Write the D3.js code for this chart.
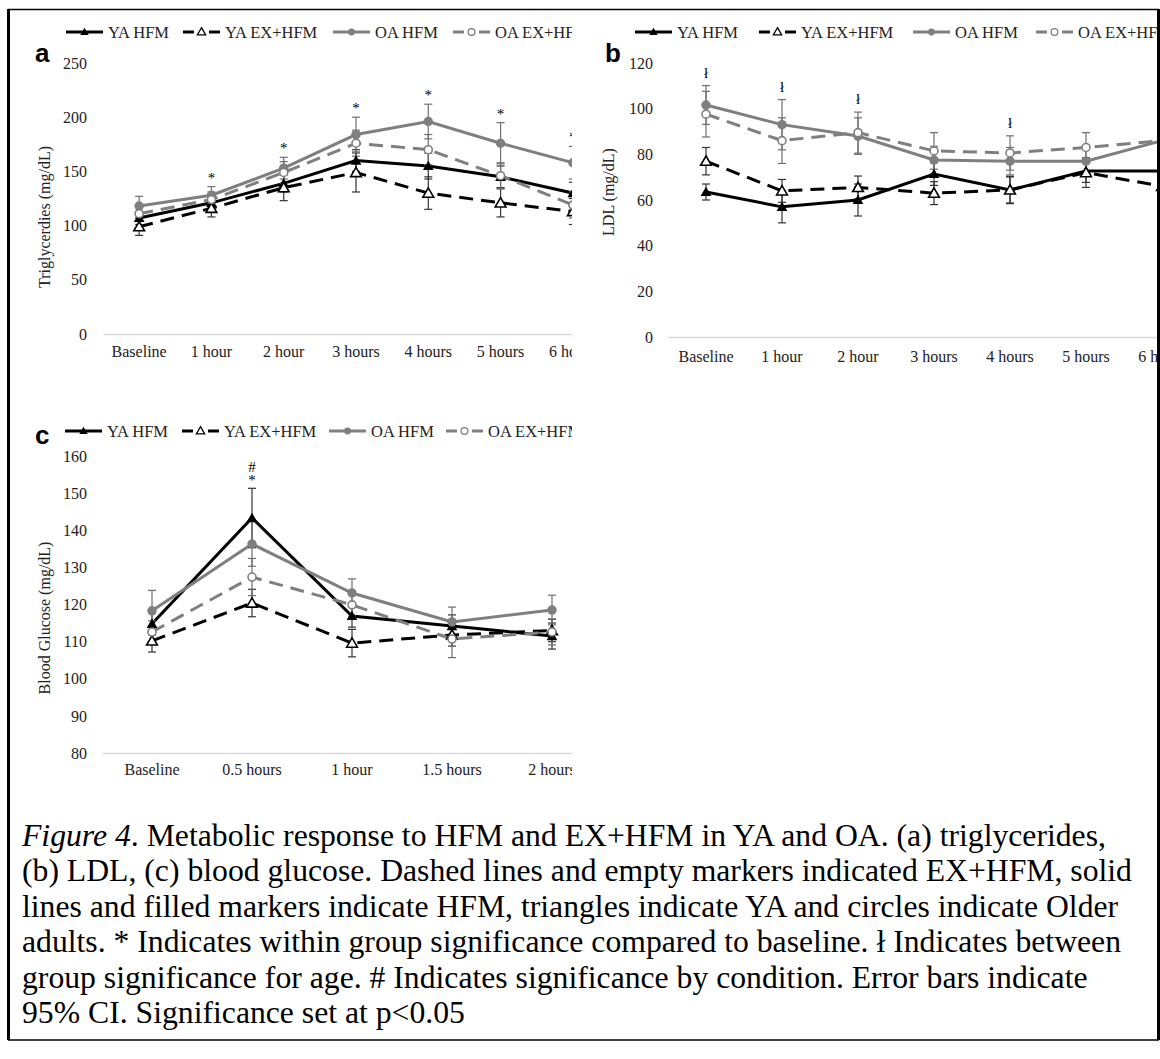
<!DOCTYPE html>
<html>
<head>
<meta charset="utf-8">
<script src="https://cdn.jsdelivr.net/npm/d3@7"></script>
<style>
  body { margin: 0; background: #fff; }
  svg { display: block; font-family: "Liberation Serif", "Times New Roman", serif; }
  text { font-family: "Liberation Serif", "Times New Roman", serif; }
</style>
</head>
<body>
<div id="chart"></div>
<script>
var seriesNames = ['YA HFM', 'YA EX+HFM', 'OA HFM', 'OA EX+HFM'];

// (a) triglycerides
var tgTimes = ['Baseline', '1 hour', '2 hour', '3 hours', '4 hours', '5 hours', '6 hours'];
var tgYaHfm = [107, 121, 139, 160, 155, 145, 130];
var tgYaEx = [99, 116, 135, 149, 130, 121, 113];
var tgOaHfm = [118, 128, 153, 184, 196, 176, 158];
var tgOaEx = [111, 124, 149, 176, 170, 146, 119];
var tgYaHfmCi = [6, 6, 8, 10, 12, 10, 10];
var tgYaExCi = [8, 8, 12, 18, 15, 13, 12];
var tgOaHfmCi = [9, 8, 10, 16, 16, 19, 15];
var tgOaExCi = [6, 7, 10, 12, 14, 12, 12];
var tgSig = [[], ['*'], ['*'], ['*'], ['*'], ['*'], ['*']];
var tgTicks = [0, 50, 100, 150, 200, 250];

// (b) LDL
var ldlTimes = tgTimes;
var ldlYaHfm = [63.5, 57, 60, 71.4, 64.4, 72.7, 72.7];
var ldlYaEx = [77, 64, 65.5, 63, 64.4, 72, 66];
var ldlOaHfm = [101.6, 93, 88, 77.5, 77, 77, 86];
var ldlOaEx = [97.6, 86, 89.5, 81.5, 80.6, 83, 86];
var ldlYaHfmCi = [3.5, 7, 7, 5, 6, 5, 5];
var ldlYaExCi = [6, 5, 5, 5, 5.7, 6.5, 5];
var ldlOaHfmCi = [8.5, 11, 8, 6, 6, 6, 8];
var ldlOaExCi = [10, 10, 9, 8, 7.5, 6.5, 8];
var ldlSig = [['ł'], ['ł'], ['ł'], [], ['ł'], [], []];
var ldlTicks = [0, 20, 40, 60, 80, 100, 120];

// (c) blood glucose
var bgTimes = ['Baseline', '0.5 hours', '1 hour', '1.5 hours', '2 hours'];
var bgYaHfm = [114.8, 143.3, 116.9, 114.2, 111.5];
var bgYaEx = [110.2, 120.4, 109.6, 111.8, 113];
var bgOaHfm = [118.3, 136.3, 123.1, 115.3, 118.5];
var bgOaEx = [112.6, 127.4, 119.9, 110.7, 112.6];
var bgYaHfmCi = [3, 8, 3, 3, 3.5];
var bgYaExCi = [3, 3.7, 3.7, 3, 3];
var bgOaHfmCi = [5.5, 6, 3.8, 4, 4];
var bgOaExCi = [3, 5, 3, 5, 3.5];
var bgSig = [[], ['#', '*'], [], [], []];
var bgTicks = [80, 90, 100, 110, 120, 130, 140, 150, 160];

var captionLines = [
    [['Figure 4', true], ['. Metabolic response to HFM and EX+HFM in YA and OA. (a) triglycerides,', false]],
    [['(b) LDL, (c) blood glucose. Dashed lines and empty markers indicated EX+HFM, solid', false]],
    [['lines and filled markers indicate HFM, triangles indicate YA and circles indicate Older', false]],
    [['adults. * Indicates within group significance compared to baseline. ł Indicates between', false]],
    [['group significance for age. # Indicates significance by condition. Error bars indicate', false]],
    [['95% CI. Significance set at p<0.05', false]]
];

var styles = [
    {color: '#000', dash: null, shape: d3.symbolTriangle, fill: '#000'},
    {color: '#000', dash: '14,8', shape: d3.symbolTriangle, fill: '#fff'},
    {color: '#7f7f7f', dash: null, shape: d3.symbolCircle, fill: '#7f7f7f'},
    {color: '#7f7f7f', dash: '14,8', shape: d3.symbolCircle, fill: '#fff'}
];

var svg = d3.select('#chart').append('svg')
    .attr('width', 1160)
    .attr('height', 1059);
var defs = svg.append('defs');

function drawPanel(p) {
    defs.append('clipPath').attr('id', 'clip-' + p.label)
        .append('rect')
        .attr('x', p.clip[0]).attr('y', 0)
        .attr('width', p.clip[1] - p.clip[0]).attr('height', 1059);

    var g = svg.append('g').attr('clip-path', 'url(#clip-' + p.label + ')'),
        x = d3.scaleBand().domain(p.cats).range(p.xr),
        y = d3.scaleLinear().domain([p.ticks[0], p.ticks[p.ticks.length - 1]]).range(p.yr),
        cx = function(i) { return x(p.cats[i]) + x.bandwidth() / 2; };

    var yy = g.append('g')
        .attr('transform', 'translate(' + p.xr[0] + ',0)')
        .call(d3.axisLeft(y).tickValues(p.ticks).tickSize(0).tickPadding(p.ypad));
    yy.select('.domain').remove();
    yy.selectAll('text').style('font-size', '16px').style('font-family', '"Liberation Serif", serif').attr('fill', '#222');

    var xx = g.append('g')
        .attr('transform', 'translate(0,' + p.yr[0] + ')')
        .call(d3.axisBottom(x).tickSize(0).tickSizeOuter(0).tickPadding(p.xpad));
    xx.select('.domain').attr('stroke', '#d9d9d9').attr('stroke-width', 1.3);
    xx.selectAll('text').style('font-size', '16px').style('font-family', '"Liberation Serif", serif').attr('fill', '#222');

    g.append('text')
        .attr('transform', 'translate(' + p.title[1] + ',' + p.title[2] + ') rotate(-90)')
        .attr('text-anchor', 'middle')
        .attr('dy', '0.35em')
        .style('font-size', '16px')
        .attr('fill', '#222')
        .text(p.title[0]);

    var line = d3.line()
        .x(function(d, i) { return cx(i); })
        .y(function(d) { return y(d); });

    // lines
    p.series.forEach(function(s, k) {
        g.append('path')
            .datum(s.values)
            .attr('d', line)
            .attr('fill', 'none')
            .attr('stroke', styles[k].color)
            .attr('stroke-width', 3)
            .attr('stroke-dasharray', styles[k].dash);
    });

    // error bars
    p.series.forEach(function(s, k) {
        var eb = g.append('g').selectAll('g')
            .data(s.values)
            .enter().append('g')
            .attr('stroke', k < 2 ? '#333' : '#6f6f6f')
            .attr('stroke-width', 1.2);
        eb.append('line')
            .attr('x1', function(d, i) { return cx(i); })
            .attr('x2', function(d, i) { return cx(i); })
            .attr('y1', function(d, i) { return y(d - s.ci[i]); })
            .attr('y2', function(d, i) { return y(d + s.ci[i]); });
        [-1, 1].forEach(function(sign) {
            eb.append('line')
                .attr('x1', function(d, i) { return cx(i) - 4; })
                .attr('x2', function(d, i) { return cx(i) + 4; })
                .attr('y1', function(d, i) { return y(d + sign * s.ci[i]); })
                .attr('y2', function(d, i) { return y(d + sign * s.ci[i]); });
        });
    });

    // markers
    p.series.forEach(function(s, k) {
        var st = styles[k],
            isTri = st.shape === d3.symbolTriangle;
        g.append('g').selectAll('path')
            .data(s.values)
            .enter().append('path')
            .attr('d', d3.symbol(st.shape, isTri ? 50 : (st.fill === '#fff' ? 50 : 70)))
            .attr('transform', function(d, i) { return 'translate(' + cx(i) + ',' + (y(d) + (isTri ? 1 : 0)) + ')'; })
            .attr('fill', st.fill)
            .attr('stroke', st.color)
            .attr('stroke-width', st.fill === '#fff' ? 1.6 : 0);
    });

    // significance marks
    p.sig.forEach(function(marks, i) {
        if (!marks.length) return;
        var top = d3.max(p.series, function(s) { return s.values[i] + s.ci[i]; });
        marks.slice().reverse().forEach(function(m, j) {
            g.append('text')
                .attr('x', cx(i))
                .attr('y', y(top) - p.sigGap - j * 13)
                .attr('text-anchor', 'middle')
                .style('font-size', '15px')
                .attr('fill', '#000')
                .text(m);
        });
    });

    // legend
    seriesNames.forEach(function(name, k) {
        var st = styles[k],
            lg = g.append('g').attr('transform', 'translate(' + p.legendX[k] + ',' + p.legendY + ')');
        lg.append('line')
            .attr('x1', 0).attr('x2', 37)
            .attr('stroke', st.color)
            .attr('stroke-width', 3)
            .attr('stroke-dasharray', st.dash ? '11,15,11' : null);
        lg.append('path')
            .attr('d', d3.symbol(st.shape, st.shape === d3.symbolTriangle ? 30 : 36))
            .attr('transform', 'translate(18.5,' + (st.shape === d3.symbolTriangle ? 0.5 : 0) + ')')
            .attr('fill', st.fill)
            .attr('stroke', st.color)
            .attr('stroke-width', st.fill === '#fff' ? 1.3 : 0);
        lg.append('text')
            .attr('x', 42)
            .attr('dy', '0.34em')
            .style('font-size', '16.5px')
            .attr('fill', '#222')
            .text(name);
    });

    svg.append('text')
        .attr('x', p.labelPos[0])
        .attr('y', p.labelPos[1])
        .style('font-family', '"Liberation Sans", Arial, sans-serif')
        .style('font-weight', 'bold')
        .style('font-size', '26px')
        .text(p.label);
}

function build(vals, cis) {
    return vals.map(function(v, k) { return {values: v, ci: cis[k]}; });
}

drawPanel({
    label: 'a', labelPos: [35, 62],
    cats: tgTimes, ticks: tgTicks,
    series: build([tgYaHfm, tgYaEx, tgOaHfm, tgOaEx], [tgYaHfmCi, tgYaExCi, tgOaHfmCi, tgOaExCi]),
    sig: tgSig, sigGap: 4,
    xr: [103, 609], yr: [334, 63], clip: [0, 572],
    ypad: 16, xpad: 12,
    title: ['Triglycerdies (mg/dL)', 44, 217],
    legendX: [66, 183, 333, 453], legendY: 32
});

drawPanel({
    label: 'b', labelPos: [605, 62],
    cats: ldlTimes, ticks: ldlTicks,
    series: build([ldlYaHfm, ldlYaEx, ldlOaHfm, ldlOaEx], [ldlYaHfmCi, ldlYaExCi, ldlOaHfmCi, ldlOaExCi]),
    sig: ldlSig, sigGap: 8,
    xr: [668, 1200], yr: [337, 63], clip: [580, 1157],
    ypad: 15, xpad: 14,
    title: ['LDL (mg/dL)', 608, 192],
    legendX: [635, 759, 913, 1036], legendY: 32
});

drawPanel({
    label: 'c', labelPos: [35, 444],
    cats: bgTimes, ticks: bgTicks,
    series: build([bgYaHfm, bgYaEx, bgOaHfm, bgOaEx], [bgYaHfmCi, bgYaExCi, bgOaHfmCi, bgOaExCi]),
    sig: bgSig, sigGap: 3,
    xr: [102, 602], yr: [753, 456], clip: [0, 572],
    ypad: 15, xpad: 11,
    title: ['Blood Glucose (mg/dL)', 44, 618],
    legendX: [65, 182, 329, 446], legendY: 431
});

// caption
captionLines.forEach(function(parts, i) {
    var t = svg.append('text')
        .attr('x', 22)
        .attr('y', 846 + i * 35.4)
        .style('font-size', '31.7px')
        .attr('fill', '#000');
    parts.forEach(function(part) {
        t.append('tspan')
            .style('font-style', part[1] ? 'italic' : 'normal')
            .text(part[0]);
    });
});

// page frame
var frame = svg.append('g').attr('stroke', '#000').attr('fill', 'none');
frame.append('line').attr('x1', 8).attr('x2', 1159).attr('y1', 9.5).attr('y2', 9.5).attr('stroke-width', 1.5);
frame.append('line').attr('x1', 8.5).attr('x2', 8.5).attr('y1', 9).attr('y2', 1040).attr('stroke-width', 3);
frame.append('line').attr('x1', 1158.5).attr('x2', 1158.5).attr('y1', 9).attr('y2', 1040).attr('stroke-width', 3);
frame.append('line').attr('x1', 8).attr('x2', 1159).attr('y1', 1040).attr('y2', 1040).attr('stroke-width', 1.5);
</script>
</body>
</html>
